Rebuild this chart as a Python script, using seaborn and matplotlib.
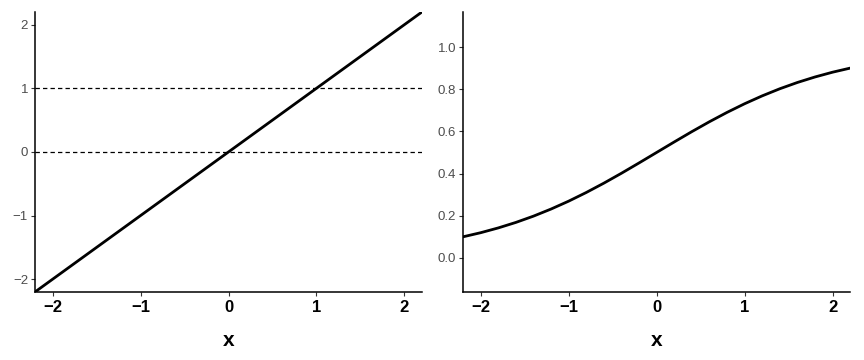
import matplotlib
matplotlib.use("Agg")
import matplotlib.pyplot as plt
import seaborn as sns
import pandas as pd

# Left panel: straight line y = x
line_x = [-2.2, 2.2]
line_y = [-2.2, 2.2]
hlines_y = [0, 1]

# Right panel: S-shaped curve
curve_x = [-2.2, -2.0, -1.8, -1.6, -1.4, -1.2, -1.0, -0.8, -0.6, -0.4, -0.2, 0.0,
           0.2, 0.4, 0.6, 0.8, 1.0, 1.2, 1.4, 1.6, 1.8, 2.0, 2.2]
curve_y = [0.0998, 0.1192, 0.1419, 0.1680, 0.1978, 0.2315, 0.2689, 0.3100, 0.3543,
           0.4013, 0.4502, 0.5000, 0.5498, 0.5987, 0.6457, 0.6900, 0.7311, 0.7685,
           0.8022, 0.8320, 0.8581, 0.8808, 0.9002]

x_ticks = [-2, -1, 0, 1, 2]
left_yticks = [-2, -1, 0, 1, 2]
right_yticks = [0.0, 0.2, 0.4, 0.6, 0.8, 1.0]

sns.set_style("white")
plt.rcParams['font.family'] = ['Liberation Sans', 'DejaVu Sans']

fig = plt.figure(figsize=(8.64, 3.6), dpi=100)
ax1 = fig.add_axes([0.0405, 0.189, 0.448, 0.778])
ax2 = fig.add_axes([0.536, 0.189, 0.448, 0.778])

df1 = pd.DataFrame({"x": line_x, "y": line_y})
df2 = pd.DataFrame({"x": curve_x, "y": curve_y})

for yv in hlines_y:
    ax1.axhline(yv, color="black", lw=0.9, ls=(0, (3.5, 2.5)), zorder=1)
sns.lineplot(data=df1, x="x", y="y", ax=ax1, color="black", lw=2, zorder=3)
sns.lineplot(data=df2, x="x", y="y", ax=ax2, color="black", lw=2, zorder=3)

ax1.set_xlim(-2.2, 2.2)
ax1.set_ylim(-2.2, 2.2)
ax1.set_yticks(left_yticks)
ax1.set_yticklabels(["\u22122", "\u22121", "0", "1", "2"])
ax2.set_xlim(-2.2, 2.2)
ax2.set_ylim(-0.162, 1.167)
ax2.set_yticks(right_yticks)
ax2.set_yticklabels([f"{v:.1f}" for v in right_yticks])

for ax in (ax1, ax2):
    ax.set_xticks(x_ticks)
    ax.set_xticklabels(["\u22122", "\u22121", "0", "1", "2"], fontweight="bold", fontsize=12, color="black")
    ax.set_xlabel("x", fontweight="bold", fontsize=15, color="black", labelpad=11)
    ax.set_ylabel("")
    for s in ("top", "right"):
        ax.spines[s].set_visible(False)
    for s in ("left", "bottom"):
        ax.spines[s].set_color("black")
        ax.spines[s].set_linewidth(1.1)
    ax.tick_params(axis="both", direction="out", length=3, width=0.8, color="#333333",
                   bottom=True, left=True)
    ax.tick_params(axis="y", labelsize=9.5, labelcolor="#4d4d4d", pad=2)
    ax.tick_params(axis="x", pad=3)

fig.savefig("out.png", dpi=100)
